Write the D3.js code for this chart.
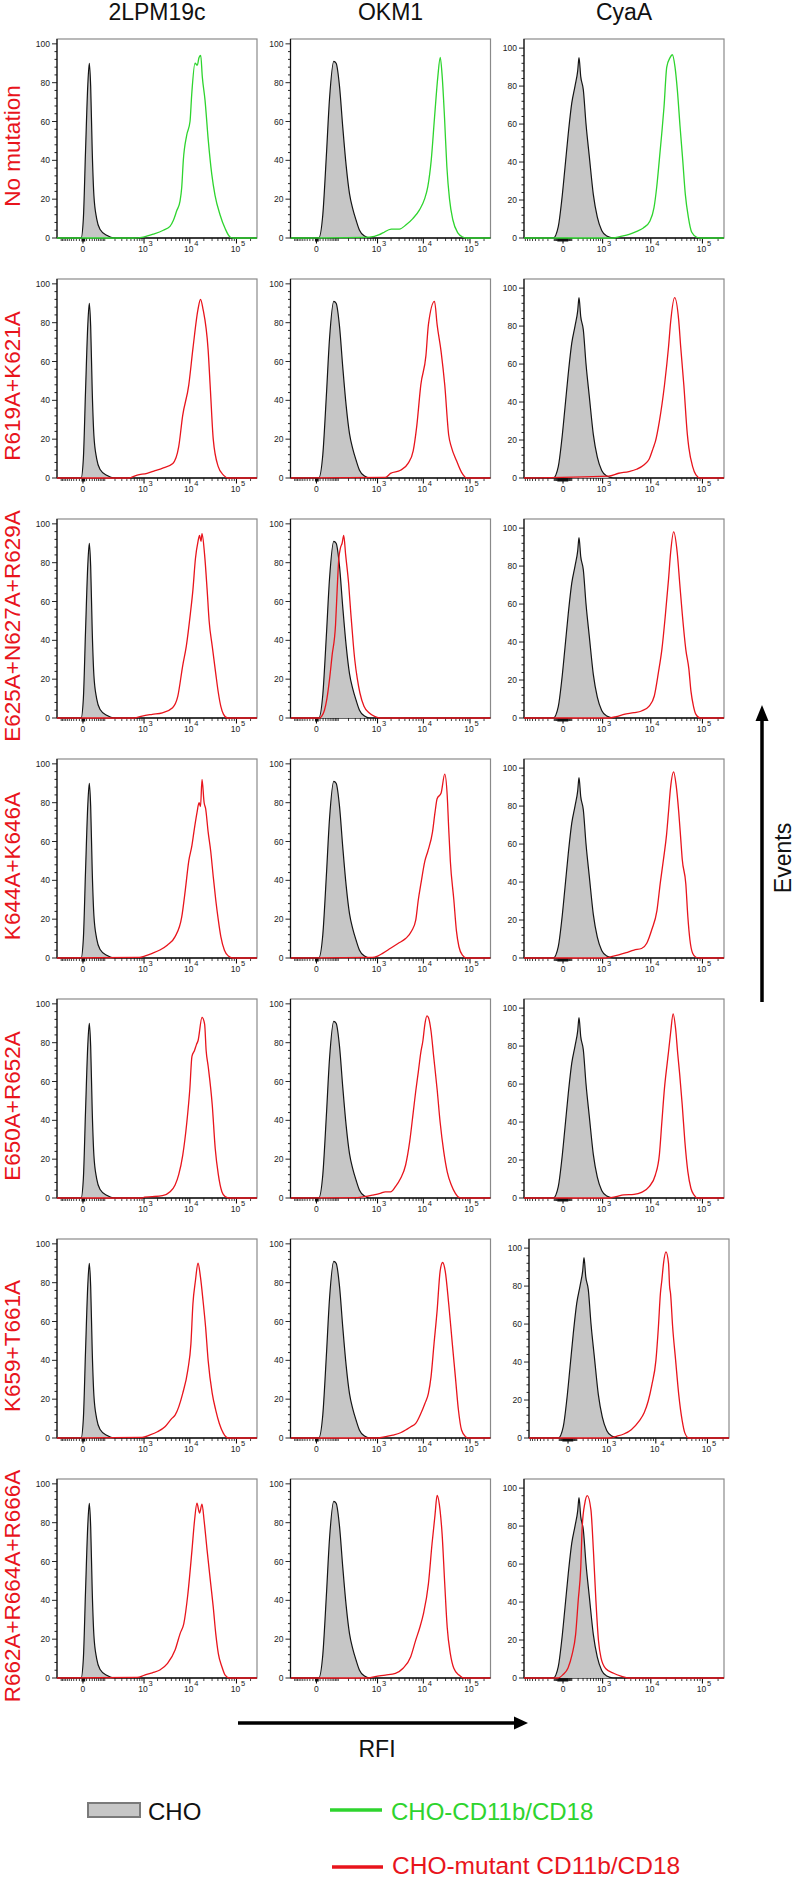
<!DOCTYPE html>
<html>
<head>
<meta charset="utf-8">
<script src="https://cdnjs.cloudflare.com/ajax/libs/d3/7.8.5/d3.min.js"></script>
<style>
  body { margin: 0; background: #fff; }
  svg text { font-family: "Liberation Sans", Arial, sans-serif; }
</style>
</head>
<body>
<div id="chart"></div>
<script>
"use strict"

const columnTitles = ["2LPM19c", "OKM1", "CyaA"];
const rowLabels = ["No mutation", "R619A+K621A", "E625A+N627A+R629A", "K644A+K646A",
                   "E650A+R652A", "K659+T661A", "R662A+R664A+R666A"];

// CHO control, one histogram per antibody column: [fluorescence, events (% max)]
const choCol1 = [[-5,0],[1,10],[7,45],[14,79],[19,90],[24,78],[30,45],[37,22],[50,10],[68,4.5],[115,1.4],[200,0]];
const choCol2 = [[6,0],[19,12],[32,41],[47,72],[70,91],[85,90],[110,78],[138,57],[173,37],[212,23],[259,15],[316,9],[381,4],[502,1],[657,0]];
const choCol3 = [[-113,0],[-49,6],[-12,20],[19,37],[55,55],[99,71],[147,80],[192,88],[216,95],[250,85],[306,78],[371,60],[462,43],[592,23],[748,11],[953,4],[1241,1],[1733,0]];

// CD11b/CD18 transfected cells, one histogram per column (2LPM19c, OKM1, CyaA)
const noMutation = [
  [[568,0],[964,0.5],[1610,2],[2670,4],[3730,6],[4400,9],[5215,14],[6150,19],[6690,26],[7240,40],[8570,53],[10090,60],[10980,74],[12930,90],[14490,89],[15760,93],[17140,94],[18540,83],[21190,71],[24950,50],[29500,33],[34730,22],[44450,12],[56900,5],[72800,0.5],[85650,0]],
  [[655,0.5],[1100,1.7],[1310,2.6],[2015,4.6],[3050,4.6],[4250,6.8],[5930,10],[8270,14.5],[10600,20],[12480,26.5],[14770,40],[17390,62],[20470,83],[23070,93],[25450,83],[28500,62],[31940,37],[36470,20],[42940,9.4],[54950,2.6],[70350,0.5],[83150,0]],
  [[1730,0],[2390,0.7],[3840,2],[5280,3.5],[7120,5.3],[9630,9],[11550,16],[13070,27],[14660,41],[16360,55],[18100,69],[20460,90],[23680,95],[26270,96.5],[29600,90],[32810,78],[36960,59],[41710,41],[46800,23],[53500,11],[62250,3],[77710,0.4],[89920,0]]
];
const r619k621 = [
  [[440,0],[700,1.5],[1170,2.4],[1760,3.8],[2520,5],[4300,7.5],[5750,16],[7000,32],[9500,48],[11700,67],[15000,87],[16950,92],[19200,87],[24700,66],[27700,45],[31800,20],[40500,6],[52500,1.5],[67000,0]],
  [[1500,0.3],[1950,2.4],[3220,4],[4690,7.5],[6050,14],[7240,27],[8830,48],[11370,63],[12860,79],[17390,91],[19770,79],[24110,65],[28800,48],[35070,22],[39880,16],[51300,9],[65660,3],[84400,0]],
  [[1360,1],[2260,2.5],[3660,3.4],[5200,4.6],[7400,7],[9300,10],[11200,16],[12230,19],[14730,30],[18500,49],[22150,69],[24310,82],[29070,95],[34880,83],[38120,69],[43790,49],[51200,23],[54690,16],[64760,6],[74950,1.6],[89920,0]]
];
const e625n627r629 = [
  [[600,0],[907,1],[1530,1.9],[2550,2.7],[4250,5.3],[5480,11],[7030,27],[8400,37],[10300,54],[11650,66],[13190,82],[15000,91],[16150,94],[17390,91],[18270,95],[20770,84],[23530,66],[25970,50],[30250,37],[35940,23],[40880,13],[46240,6],[52580,2],[64070,0]],
  [[8,0],[15.5,1],[25,4],[35,10],[47,20],[60,32],[81,48],[92,66],[103,81],[119,88],[132,90],[147,94],[167,84],[202,69],[230,54],[267,38],[291,30],[338,20],[389,13],[488,6],[640,2.7],[882,0.7],[1150,0]],
  [[1360,0],[1980,0.7],[2890,1.9],[4640,2.8],[6560,3.7],[9290,6.3],[11700,11.6],[14090,24],[16440,36],[19350,55],[22150,73],[24310,87],[27820,98],[32650,87],[36470,71],[40800,55],[47850,36],[54690,26],[60180,14],[67110,6.3],[74950,1.9],[89920,0]]
];
const k644k646 = [
  [[790,0.3],[1030,1],[1530,2.4],[2245,4.1],[3300,6.7],[4810,11],[6680,21],[7990,35],[9500,50],[11100,58],[12240,65],[14280,75],[15760,80],[16960,78],[18270,92],[20270,80],[21830,77],[24710,65],[28080,55],[31780,42],[35940,30],[40880,19.5],[46240,11],[55210,4],[67000,1],[82350,0]],
  [[770,0.3],[1006,1],[1300,2.4],[1945,5],[2830,7.5],[4150,10],[5620,14],[6860,19.5],[7800,30],[8830,38],[10810,50],[12500,55],[15760,65],[17820,75],[19770,82],[24110,85],[28800,94.7],[32570,83.6],[35070,66.5],[37960,50],[45110,30],[51300,14],[58050,5.8],[68960,1.5],[84400,0]],
  [[1170,0],[1580,0.7],[2260,1.6],[3230,2.8],[4640,4.2],[6560,5],[8330,7.8],[10470,15],[13180,25],[15390,40],[18100,54],[20290,65],[22150,77],[24310,90],[27820,98],[31090,91],[34880,77],[38120,63],[40800,52],[47850,39],[52270,22],[57440,9.5],[64760,2.5],[74950,0.4],[89920,0]]
];
const e650r652 = [
  [[907,0],[1030,0.5],[1530,0.7],[2550,1.2],[3750,3.2],[4810,6.7],[5760,12],[7030,22],[8620,39],[9990,56],[11100,73],[12610,76],[13860,79],[15000,81],[18270,93],[20770,89.6],[22400,76],[24710,68],[30250,48],[35070,25.5],[40880,12],[48700,3.2],[57170,0.7],[70680,0]],
  [[340,0.2],[506,0.7],[771,1.5],[1150,2.4],[1495,3.2],[1945,3.2],[2480,5.8],[3220,10],[4150,17],[5080,29],[6050,44],[6860,55],[7800,65],[8830,75],[9790,81],[10810,89.6],[11940,93.8],[12860,93],[14630,86],[16500,74],[19770,56],[22960,39],[27390,24],[32570,13.5],[39880,6.7],[48700,2.4],[58050,0.3],[68960,0]],
  [[1360,0],[1980,0.7],[2890,1.6],[4640,1.9],[6560,3],[9290,6],[12230,12],[14730,23],[16440,40],[18500,58],[20670,70],[22150,77],[24310,87],[27210,97],[30400,89],[33390,76],[36470,65],[40800,49],[45780,30],[52270,14],[60180,5],[68620,1.6],[80530,0]]
];
const k659t661 = [
  [[907,0.3],[1335,1.5],[1984,3.2],[2900,5.8],[4050,10],[4810,11.8],[7030,23],[9050,35],[10550,48.5],[11650,69],[13190,81],[15000,90],[16960,82.7],[19200,70.8],[21830,57],[24710,40],[30250,23],[35940,14.4],[42940,7.5],[52580,2.4],[67000,0]],
  [[1006,0],[1495,0.7],[2190,1.5],[3220,2.7],[4150,4.1],[5350,5.8],[6860,7.5],[8830,12.6],[10810,17.8],[12860,23],[14630,31.5],[16960,48.5],[19770,65.6],[22960,86],[25970,90.4],[29500,86],[35070,69],[41890,48.5],[48700,31.5],[56600,14.4],[65990,4.1],[80300,0.7],[95000,0]],
  [[1050,0],[1580,0.9],[2270,2.1],[3240,4.4],[4660,8.9],[5890,13.3],[7090,19.5],[8370,28],[10060,41],[11250,58.6],[12290,76],[13180,83.5],[14150,92],[15800,98],[17700,92],[18580,80],[19400,76],[21290,58.6],[24310,41],[27930,23],[32650,9],[36640,2.7],[43790,0]]
];
const r662r664r666 = [
  [[700,0.3],[1030,1.5],[1530,2.7],[2245,4.1],[3300,7.5],[4810,14.4],[6200,23],[7420,28],[9050,43],[11100,65.6],[12610,81],[14220,90],[16150,85],[18270,89.6],[20270,81],[23530,65.6],[28080,48.5],[31780,36.6],[35940,23],[40880,12.6],[48700,5.8],[57170,1.5],[70680,0]],
  [[617,0],[882,0.7],[1495,1.5],[2490,2.4],[3660,5],[5350,11],[6860,19.5],[8400,26],[10040,33],[12860,48.5],[15370,69],[17820,84],[19770,94],[22960,86],[25330,74],[28800,48.5],[32570,26],[37960,12.6],[45110,5],[58050,1.5],[74640,0]],
  [[-53,0],[0,1.8],[52,5.3],[104,12.4],[157,23],[201,40.7],[250,58],[281,79.6],[341,92],[405,96],[512,88.5],[596,67],[690,40.7],[800,19.5],[918,10.6],[1172,5],[1761,2.5],[2527,1],[3660,0]]
];

const choCols = [choCol1, choCol2, choCol3];
const cellRows = [noMutation, r619k621, e625n627r629, k644k646, e650r652, k659t661, r662r664r666];

const yMajorTicks = [0, 20, 40, 60, 80, 100];
const xLabelTicks = [0, 1e3, 1e4, 1e5];
const xExponents = ["", "3", "4", "5"];
const legendLabels = ["CHO", "CHO-CD11b/CD18", "CHO-mutant CD11b/CD18"];

const RED = "#e8141c";
const GREEN = "#2ed42e";
const CHO_FILL = "#c6c6c6";

const colLeft = [57, 290.5, 524];
const panelW = 200;
const panelH = 199;
const rowStep = 240;

let drawing = d3.select("#chart")
    .append("svg")
    .attr("width", 795)
    .attr("height", 1879);

drawing.append("rect")
    .attr("width", 795)
    .attr("height", 1879)
    .attr("fill", "#fff");

// column titles
columnTitles.forEach((t, c) => {
    drawing.append("text")
        .attr("x", colLeft[c] + panelW / 2)
        .attr("y", 20)
        .attr("text-anchor", "middle")
        .attr("font-size", 23)
        .attr("fill", "#111")
        .text(t);
});

// minor ticks for the logicle-like x axis
let minorTicks = [];
[10, 100, 1000, 10000, 100000].forEach(d => {
    d3.range(1, 10).forEach(m => {
        if (m * d >= 1000 && m === 1) return;
        minorTicks.push(m * d, -m * d);
    });
});

function drawPanel(r, c, cho, cells, color) {
    let left = colLeft[c] + (r === 5 && c === 2 ? 5 : 0);
    let top = 39 + rowStep * r;
    let bottom = top + panelH;

    let x = (c < 2 ? d3.scaleSymlog().constant(52).domain([-135, 275000])
                   : d3.scaleSymlog().constant(210).domain([-970, 260000]))
        .range([left, left + panelW]);
    let y = d3.scaleLinear()
        .domain([0, c < 2 ? 102.5 : 104.8])
        .range([bottom, top]);

    let g = drawing.append("g");
    let clipId = "clip-" + r + "-" + c;
    g.append("clipPath").attr("id", clipId)
        .append("rect")
        .attr("x", left).attr("y", top - 2)
        .attr("width", panelW).attr("height", panelH + 3);

    // frame
    g.append("rect")
        .attr("x", left).attr("y", top)
        .attr("width", panelW).attr("height", panelH)
        .attr("fill", "none")
        .attr("stroke", "#8a8a8a")
        .attr("stroke-width", 1.2);

    // x axis line + ticks
    g.append("line")
        .attr("x1", left).attr("x2", left + panelW)
        .attr("y1", bottom).attr("y2", bottom)
        .attr("stroke", "#111").attr("stroke-width", 1.2);

    let dom = x.domain();
    g.selectAll(".minor")
        .data(minorTicks.filter(v => v > dom[0] && v < dom[1]))
        .enter().append("line")
        .attr("x1", d => x(d)).attr("x2", d => x(d))
        .attr("y1", bottom).attr("y2", bottom + 3)
        .attr("stroke", "#111").attr("stroke-width", 0.8);
    g.selectAll(".major")
        .data(xLabelTicks)
        .enter().append("line")
        .attr("x1", d => x(d)).attr("x2", d => x(d))
        .attr("y1", bottom).attr("y2", bottom + 5.5)
        .attr("stroke", "#111").attr("stroke-width", 1.1);
    // dense tick cluster around zero
    let blob = c < 2 ? [-4, 6] : [-60, 55];
    g.append("rect")
        .attr("x", x(blob[0])).attr("y", bottom)
        .attr("width", x(blob[1]) - x(blob[0])).attr("height", 3.5)
        .attr("fill", "#111");

    xLabelTicks.forEach((v, i) => {
        g.append("text")
            .attr("x", x(v) - (i ? 1 : 0))
            .attr("y", bottom + 14)
            .attr("text-anchor", "middle")
            .attr("font-size", 8.5)
            .attr("fill", "#222")
            .text(i ? "10" : "0");
        if (i) {
            g.append("text")
                .attr("x", x(v) + 4.5)
                .attr("y", bottom + 8)
                .attr("font-size", 7.5)
                .attr("fill", "#222")
                .text(xExponents[i]);
        }
    });

    // y axis
    g.append("line")
        .attr("x1", left).attr("x2", left)
        .attr("y1", top).attr("y2", bottom)
        .attr("stroke", "#111").attr("stroke-width", 1.2);
    g.selectAll(".ytick")
        .data(d3.range(0, 101, 4))
        .enter().append("line")
        .attr("x1", left)
        .attr("x2", d => left - (d % 20 === 0 ? 5 : 2.5))
        .attr("y1", d => y(d)).attr("y2", d => y(d))
        .attr("stroke", "#111").attr("stroke-width", 0.9);
    g.selectAll(".ylabel")
        .data(yMajorTicks)
        .enter().append("text")
        .attr("x", left - 7)
        .attr("y", d => y(d) + 3)
        .attr("text-anchor", "end")
        .attr("font-size", 8.5)
        .attr("fill", "#222")
        .text(d => d);

    // histograms
    let padded = s => [[dom[0], 0]].concat(s, [[dom[1], 0]]);
    let area = d3.area()
        .x(d => x(d[0])).y0(bottom).y1(d => y(d[1]))
        .curve(d3.curveMonotoneX);
    let line = d3.line()
        .x(d => x(d[0])).y(d => y(d[1]))
        .curve(d3.curveMonotoneX);

    let plot = g.append("g").attr("clip-path", "url(#" + clipId + ")");
    plot.append("path")
        .datum(padded(cho))
        .attr("d", area)
        .attr("fill", CHO_FILL);
    plot.append("path")
        .datum(padded(cho))
        .attr("d", line)
        .attr("fill", "none")
        .attr("stroke", "#141414")
        .attr("stroke-width", 1.2);
    plot.append("path")
        .datum(padded(cells))
        .attr("d", line)
        .attr("fill", "none")
        .attr("stroke", color)
        .attr("stroke-width", 1.3);
}

cellRows.forEach((row, r) => {
    drawing.append("text")
        .attr("transform", "translate(20," + (146 + rowStep * r) + ") rotate(-90)")
        .attr("text-anchor", "middle")
        .attr("font-size", 22.5)
        .attr("fill", RED)
        .text(rowLabels[r]);
    row.forEach((series, c) => drawPanel(r, c, choCols[c], series, r === 0 ? GREEN : RED));
});

// Events arrow
drawing.append("line")
    .attr("x1", 762).attr("x2", 762)
    .attr("y1", 1002).attr("y2", 718)
    .attr("stroke", "#000").attr("stroke-width", 3.5);
drawing.append("path")
    .attr("d", "M762,705 L755.5,721 L768.5,721 Z")
    .attr("fill", "#000");
drawing.append("text")
    .attr("transform", "translate(791,858) rotate(-90)")
    .attr("text-anchor", "middle")
    .attr("font-size", 23)
    .attr("fill", "#111")
    .text("Events");

// RFI arrow
drawing.append("line")
    .attr("x1", 238).attr("x2", 516)
    .attr("y1", 1723).attr("y2", 1723)
    .attr("stroke", "#000").attr("stroke-width", 3.5);
drawing.append("path")
    .attr("d", "M528,1723 L514,1716.5 L514,1729.5 Z")
    .attr("fill", "#000");
drawing.append("text")
    .attr("x", 377).attr("y", 1757)
    .attr("text-anchor", "middle")
    .attr("font-size", 23)
    .attr("fill", "#111")
    .text("RFI");

// legend
drawing.append("rect")
    .attr("x", 88).attr("y", 1803)
    .attr("width", 52).attr("height", 14)
    .attr("fill", CHO_FILL)
    .attr("stroke", "#7a7a7a").attr("stroke-width", 2);
drawing.append("text")
    .attr("x", 148).attr("y", 1820)
    .attr("font-size", 24)
    .attr("fill", "#111")
    .text(legendLabels[0]);
drawing.append("line")
    .attr("x1", 330).attr("x2", 382)
    .attr("y1", 1810).attr("y2", 1810)
    .attr("stroke", GREEN).attr("stroke-width", 3.5);
drawing.append("text")
    .attr("x", 391).attr("y", 1820)
    .attr("font-size", 24)
    .attr("fill", GREEN)
    .text(legendLabels[1]);
drawing.append("line")
    .attr("x1", 332).attr("x2", 383)
    .attr("y1", 1867).attr("y2", 1867)
    .attr("stroke", RED).attr("stroke-width", 3.5);
drawing.append("text")
    .attr("x", 392).attr("y", 1874)
    .attr("font-size", 24.5)
    .attr("fill", RED)
    .text(legendLabels[2]);
</script>
</body>
</html>
